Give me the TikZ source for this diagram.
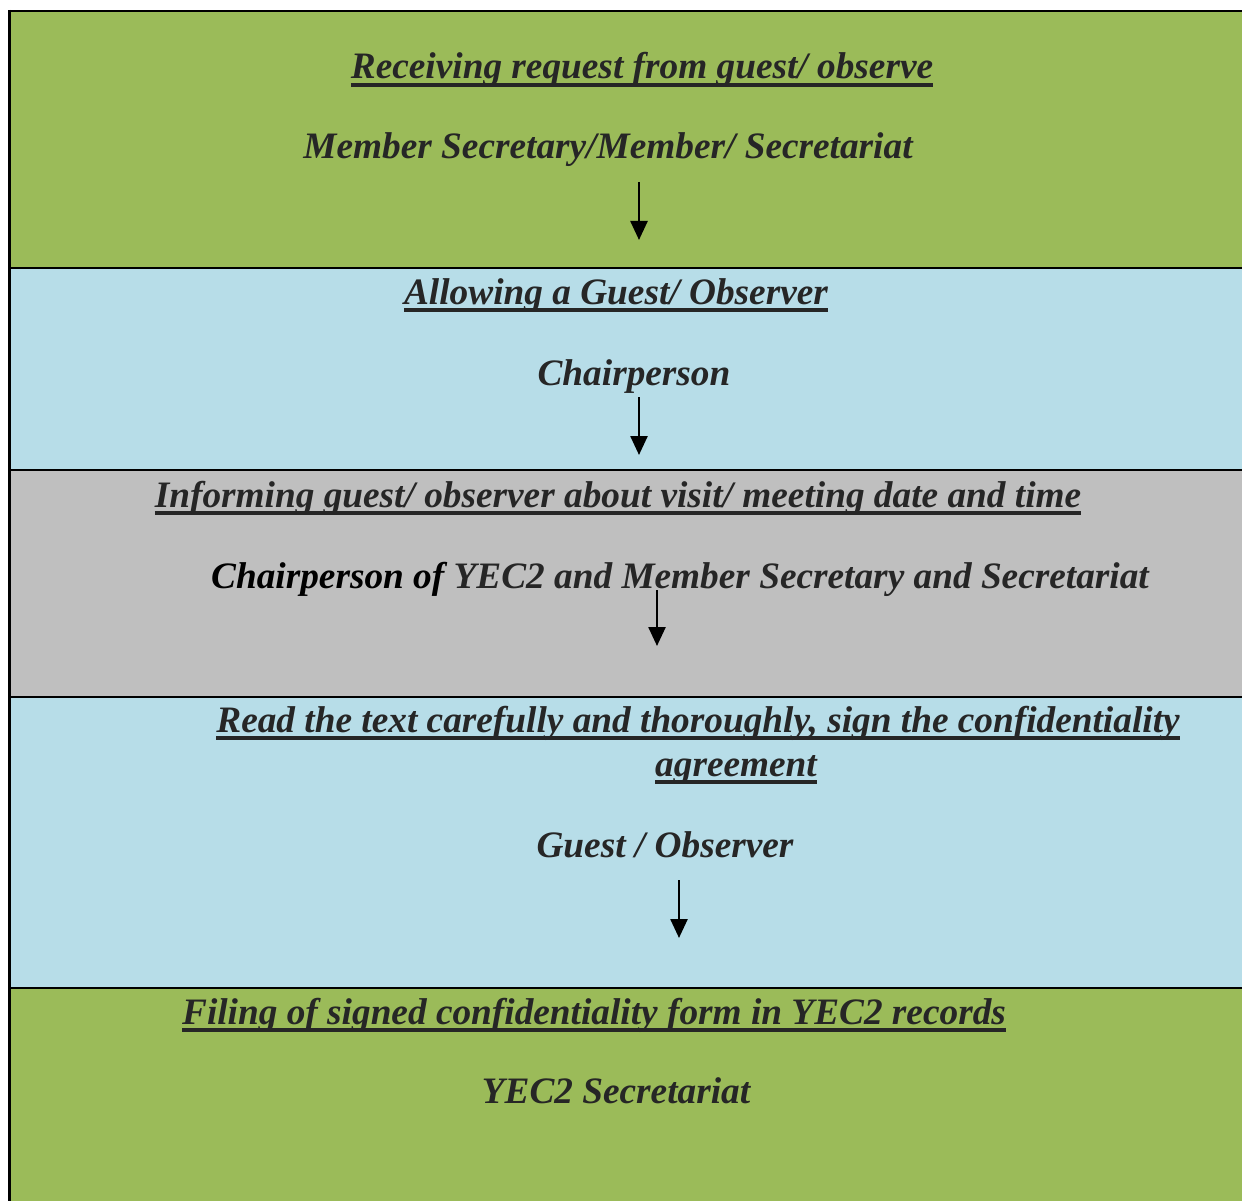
\documentclass[tikz,border=0pt]{standalone}
\usepackage{fontspec}
\setmainfont{Liberation Serif}
\usetikzlibrary{positioning,arrows.meta}

\definecolor{bandgreen}{RGB}{155,187,89}
\definecolor{bandblue}{RGB}{183,221,232}
\definecolor{bandgray}{RGB}{191,191,191}
\definecolor{inkgray}{RGB}{38,38,38}

\newcommand{\ulbar}[1]{\setbox0=\hbox{#1}\rlap{\color{inkgray}\rule[-8pt]{\wd0}{4pt}}\box0}

\tikzset{
  steptext/.style={anchor=base, inner sep=0pt, text=inkgray, font=\fontsize{37.3}{42}\selectfont\bfseries\itshape},
  flowarrow/.style={-{Triangle[width=17pt,length=19pt]}, line width=2.5pt},
  bandline/.style={line width=2pt}
}

\begin{document}
\begin{tikzpicture}[x=1pt,y=-1pt]
				\useasboundingbox (0,0) rectangle (1242,1201);
				% bands
				\fill[bandgreen] (9,10) rectangle (1242,268);
				\fill[bandblue] (9,268) rectangle (1242,470);
				\fill[bandgray] (9,470) rectangle (1242,697);
				\fill[bandblue] (9,697) rectangle (1242,988);
				\fill[bandgreen] (9,988) rectangle (1242,1201);
				\draw[bandline] (8,11) -- (1242,11);
				\draw[bandline] (9,268) -- (1242,268);
				\draw[bandline] (9,470) -- (1242,470);
				\draw[bandline] (9,697) -- (1242,697);
				\draw[bandline] (9,988) -- (1242,988);
				\draw[line width=3pt] (9,10) -- (9,1201);
				% texts
				\node[steptext] (receive) at (642,79) {\ulbar{Receiving request from guest/ observe}};
				\node[steptext] (secretary) at (608,159) {Member Secretary/Member/ Secretariat};
				\node[steptext] (allow) at (616,304) {\ulbar{Allowing a Guest/ Observer}};
				\node[steptext] (chair) at (634,385) {Chairperson};
				\node[steptext] (inform) at (618,507) {\ulbar{Informing guest/ observer about visit/ meeting date and time}};
				\node[steptext] (chairsec) at (680,588) {\textcolor{black}{Chairperson of} YEC2 and Member Secretary and Secretariat};
				\node[steptext] (read) at (698,732) {\ulbar{Read the text carefully and thoroughly, sign the confidentiality}};
				\node[steptext] (agree) at (736,776) {\ulbar{agreement}};
				\node[steptext] (guest) at (665,857) {Guest / Observer};
				\node[steptext] (filing) at (594,1024) {\ulbar{Filing of signed confidentiality form in YEC2 records}};
				\node[steptext] (yecsec) at (616,1103) {YEC2 Secretariat};
				% arrows
				\coordinate (a1) at (639,182);
				\coordinate (b1) at (639,240);
				\coordinate (a2) at (639,397);
				\coordinate (b2) at (639,455);
				\coordinate (a3) at (657,590);
				\coordinate (b3) at (657,646);
				\coordinate (a4) at (679,880);
				\coordinate (b4) at (679,938);
				\draw[flowarrow] (a1) -- (b1);
				\draw[flowarrow] (a2) -- (b2);
				\draw[flowarrow] (a3) -- (b3);
				\draw[flowarrow] (a4) -- (b4);
\end{tikzpicture}
\end{document}
